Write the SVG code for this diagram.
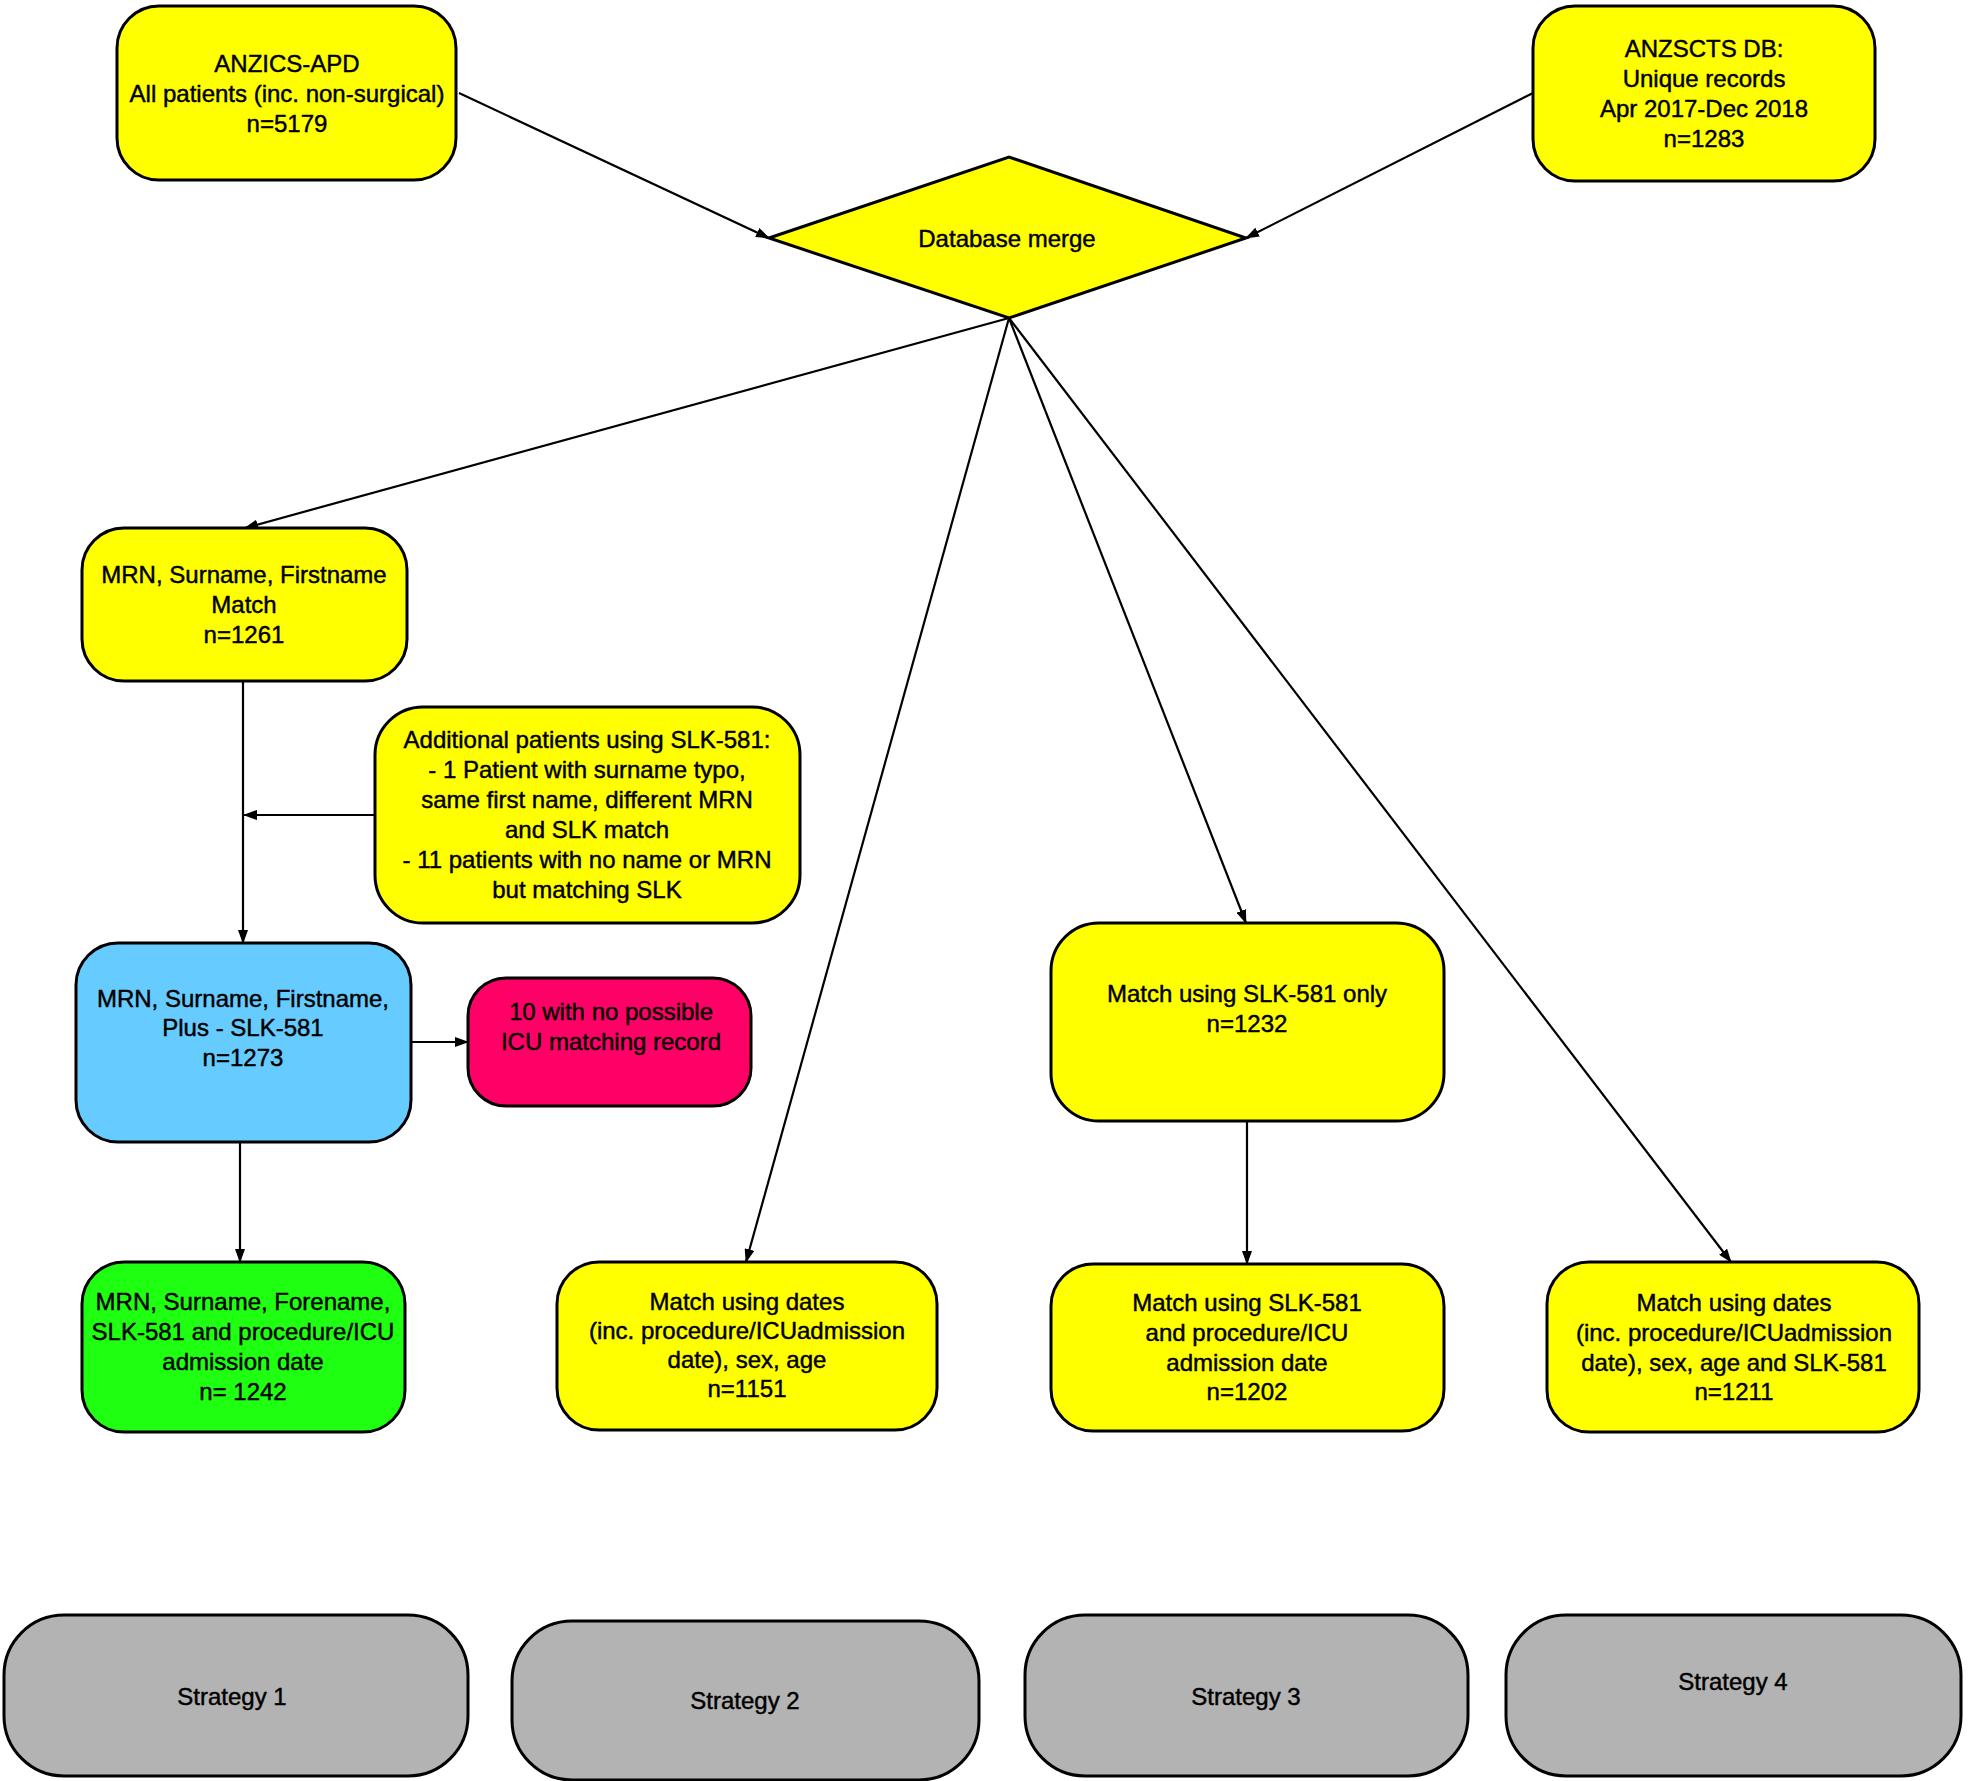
<svg xmlns="http://www.w3.org/2000/svg" width="1968" height="1781" viewBox="0 0 1968 1781">
<defs>
<style>
.n{stroke:#000;stroke-width:3}
.y{fill:#ffff00}
.b{fill:#66ccff}
.r{fill:#ff0066}
.g{fill:#1eff12}
.s{fill:#b3b3b3}
text{font-family:"Liberation Sans",Arial,Helvetica,sans-serif;font-size:24px;fill:#000;stroke:#000;stroke-width:0.45;text-anchor:middle}
.c{stroke:#000;stroke-width:2.2;fill:none;marker-end:url(#ah)}
</style>
<marker id="ah" markerUnits="userSpaceOnUse" markerWidth="14" markerHeight="10" refX="13" refY="5" orient="auto">
<path d="M0,0 L14,5 L0,10 z" fill="#000"/>
</marker>
</defs>
<rect width="1968" height="1781" fill="#fff"/>
<g id="connectors">
<path class="c" d="M459,93 L769,238"/>
<path class="c" d="M1533,93 L1246,238"/>
<path class="c" d="M1009,318 L245,528"/>
<path class="c" d="M1009,318 L746,1262"/>
<path class="c" d="M1009,318 L1246,923"/>
<path class="c" d="M1009,318 L1731,1262"/>
<path class="c" d="M243,681 L243,943"/>
<path class="c" d="M375,815 L244,815"/>
<path class="c" d="M411,1042 L468,1042"/>
<path class="c" d="M240,1142 L240,1262"/>
<path class="c" d="M1247,1121 L1247,1264"/>
</g>
<g id="anzics">
<rect class="n y" x="117" y="6" width="339" height="174" rx="42"/>
<text x="287" y="72">ANZICS-APD</text>
<text x="287" y="102">All patients (inc. non-surgical)</text>
<text x="287" y="132">n=5179</text>
</g>
<g id="anzscts">
<rect class="n y" x="1533" y="6" width="342" height="175" rx="42"/>
<text x="1704" y="57">ANZSCTS DB:</text>
<text x="1704" y="87">Unique records</text>
<text x="1704" y="117">Apr 2017-Dec 2018</text>
<text x="1704" y="147">n=1283</text>
</g>
<g id="merge">
<polygon class="n y" points="769,238 1009,157 1246,238 1009,318"/>
<text x="1007" y="247">Database merge</text>
</g>
<g id="mrn1">
<rect class="n y" x="82" y="528" width="325" height="153" rx="42"/>
<text x="244" y="583">MRN, Surname, Firstname</text>
<text x="244" y="613">Match</text>
<text x="244" y="643">n=1261</text>
</g>
<g id="additional">
<rect class="n y" x="375" y="707" width="425" height="216" rx="48"/>
<text x="587" y="748">Additional patients using SLK-581:</text>
<text x="587" y="778">- 1 Patient with surname typo,</text>
<text x="587" y="808">same first name, different MRN</text>
<text x="587" y="838">and SLK match</text>
<text x="587" y="868">- 11 patients with no name or MRN</text>
<text x="587" y="898">but matching SLK</text>
</g>
<g id="mrn-plus">
<rect class="n b" x="76" y="943" width="335" height="199" rx="42"/>
<text x="243" y="1007">MRN, Surname, Firstname,</text>
<text x="243" y="1036">Plus - SLK-581</text>
<text x="243" y="1066">n=1273</text>
</g>
<g id="no-match">
<rect class="n r" x="468" y="978" width="283" height="128" rx="38"/>
<text x="611" y="1020">10 with no possible</text>
<text x="611" y="1050">ICU matching record</text>
</g>
<g id="strategy1-result">
<rect class="n g" x="82" y="1262" width="323" height="170" rx="42"/>
<text x="243" y="1310">MRN, Surname, Forename,</text>
<text x="243" y="1340">SLK-581 and procedure/ICU</text>
<text x="243" y="1370">admission date</text>
<text x="243" y="1400">n= 1242</text>
</g>
<g id="strategy2-result">
<rect class="n y" x="557" y="1262" width="380" height="168" rx="42"/>
<text x="747" y="1310">Match using dates</text>
<text x="747" y="1339">(inc. procedure/ICUadmission</text>
<text x="747" y="1368">date), sex, age</text>
<text x="747" y="1397">n=1151</text>
</g>
<g id="slk-only">
<rect class="n y" x="1051" y="923" width="393" height="198" rx="48"/>
<text x="1247" y="1002">Match using SLK-581 only</text>
<text x="1247" y="1032">n=1232</text>
</g>
<g id="strategy3-result">
<rect class="n y" x="1051" y="1264" width="393" height="167" rx="42"/>
<text x="1247" y="1311">Match using SLK-581</text>
<text x="1247" y="1341">and procedure/ICU</text>
<text x="1247" y="1371">admission date</text>
<text x="1247" y="1400">n=1202</text>
</g>
<g id="strategy4-result">
<rect class="n y" x="1547" y="1262" width="372" height="170" rx="42"/>
<text x="1734" y="1311">Match using dates</text>
<text x="1734" y="1341">(inc. procedure/ICUadmission</text>
<text x="1734" y="1371">date), sex, age and SLK-581</text>
<text x="1734" y="1400">n=1211</text>
</g>
<g id="strategy1">
<rect class="n s" x="4" y="1615" width="464" height="161" rx="60"/>
<text x="232" y="1705">Strategy 1</text>
</g>
<g id="strategy2">
<rect class="n s" x="512" y="1621" width="467" height="159" rx="60"/>
<text x="745" y="1709">Strategy 2</text>
</g>
<g id="strategy3">
<rect class="n s" x="1025" y="1615" width="443" height="161" rx="60"/>
<text x="1246" y="1705">Strategy 3</text>
</g>
<g id="strategy4">
<rect class="n s" x="1506" y="1615" width="455" height="161" rx="60"/>
<text x="1733" y="1690">Strategy 4</text>
</g>
</svg>
